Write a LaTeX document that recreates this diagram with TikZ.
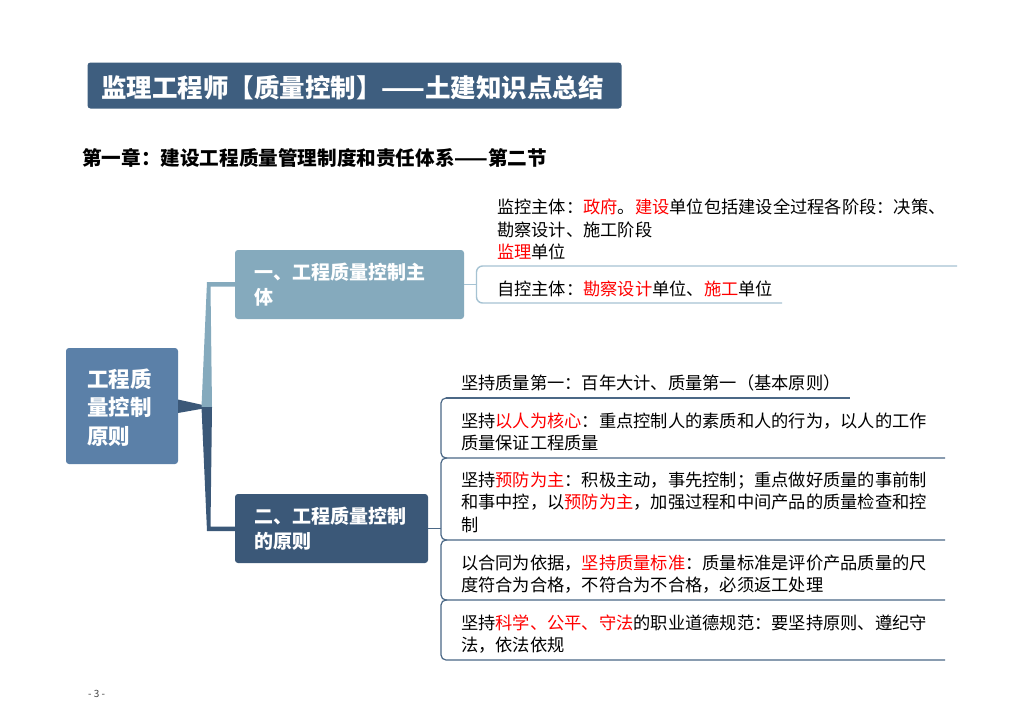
\documentclass[tikz,border=0pt]{standalone}
\usepackage{fontspec}
\setmainfont{Noto Sans CJK SC}
\definecolor{titlebg}{HTML}{3E5E7F}
\definecolor{rootbg}{HTML}{5B80A8}
\definecolor{lightbr}{HTML}{85AABD}
\definecolor{darkbr}{HTML}{3B5878}
\definecolor{lightln}{HTML}{A6C3D3}
\definecolor{darkln}{HTML}{4B6886}
\definecolor{hl}{HTML}{FF0000}
\newcommand{\hlt}[1]{\textcolor{hl}{#1}}
\tikzset{
  boxshape/.style={rectangle, rounded corners=3pt, inner sep=0pt, draw=none},
  boxtext/.style={anchor=base west, inner sep=0pt, text=white, align=left, font=\bfseries},
  itemtext/.style={anchor=base west, inner sep=0pt, text=black, align=left, font=\fontsize{17.25}{22.3}\selectfont},
  lightline/.style={draw=lightln, line width=1.4pt},
  darkline/.style={draw=darkln, line width=1.2pt},
}
\begin{document}
\begin{tikzpicture}[x=1pt,y=-1pt]
\useasboundingbox (0,0) rectangle (1024,724);
\fill[white] (0,0) rectangle (1024,724);

% title
\node[boxshape, fill=titlebg, minimum width=534pt, minimum height=46pt] (titlebox) at (354.5,85.5) {};
\node[boxtext, font=\bfseries\fontsize{25.5}{30}\selectfont] (titletext) at (101,97) {监理工程师【质量控制】——土建知识点总结};

% subtitle
\node[anchor=base west, inner sep=0pt, font=\bfseries\fontsize{19.6}{23}\selectfont] (subtitle) at (82,165.5) {第一章：建设工程质量管理制度和责任体系——第二节};

% root (base anchor = baseline of the last line)
\node[boxshape, fill=rootbg, minimum width=112pt, minimum height=116pt] (root) at (122,406) {};
\node[boxtext, font=\bfseries\fontsize{21.5}{28.5}\selectfont] (roottext) at (87,444) {工程质\\量控制\\原则};

% node 1
\node[boxshape, fill=lightbr, minimum width=229pt, minimum height=69pt] (n1) at (349.5,284.5) {};
\node[boxtext, font=\bfseries\fontsize{19}{25}\selectfont] (n1text) at (254,304) {一、工程质量控制主\\体};

% node 2
\node[boxshape, fill=darkbr, minimum width=193pt, minimum height=69pt] (n2) at (331.5,528.5) {};
\node[boxtext, font=\bfseries\fontsize{19}{25}\selectfont] (n2text) at (254,548) {二、工程质量控制\\的原则};

% tapered connectors
\fill[darkbr] (178,399.5) -- (212,407) -- (178,413) -- cycle;
\fill[lightbr] (201.5,407) -- (207,282) -- (235,282) -- (235,286.5) -- (210.5,286.5) -- (212,407) -- cycle;
\fill[darkbr] (201.5,407) -- (207,531) -- (235,531) -- (235,526.5) -- (210.5,526.5) -- (212,407) -- cycle;

% node 1 children
\coordinate (b1) at (476.5,284.5);
\draw[lightline] (n1.east) -- (b1);
\draw[lightline, rounded corners=6pt] (957,266) -- (476.5,266) -- (476.5,303) -- (782,303);
\node[itemtext] (c11) at (497,258.5) {监控主体：\hlt{政府}。\hlt{建设}单位包括建设全过程各阶段：决策、\\勘察设计、施工阶段\\\hlt{监理}单位};
\node[itemtext] (c12) at (497,295.5) {自控主体：\hlt{勘察设计}单位、\hlt{施工}单位};

% node 2 children
\coordinate (b2) at (441,528.5);
\draw[darkline] (n2.east) -- (b2);
\draw[darkline] (446,398) -- (850,398);
\draw[darkline, rounded corners=5pt] (447,398) -- (441,398) -- (441,458) -- (945,458);
\draw[darkline, rounded corners=5pt] (447,458) -- (441,458) -- (441,540) -- (945,540);
\draw[darkline, rounded corners=5pt] (447,540) -- (441,540) -- (441,600) -- (945,600);
\draw[darkline, rounded corners=5pt] (447,600) -- (441,600) -- (441,660) -- (945,660);

\node[itemtext] (d1) at (461,389.5) {坚持质量第一：百年大计、质量第一（基本原则）};
\node[itemtext] (d2) at (461,449.5) {坚持\hlt{以人为核心}：重点控制人的素质和人的行为，以人的工作\\质量保证工程质量};
\node[itemtext] (d3) at (461,531) {坚持\hlt{预防为主}：积极主动，事先控制；重点做好质量的事前制\\和事中控，以\hlt{预防为主}，加强过程和中间产品的质量检查和控\\制};
\node[itemtext] (d4) at (461,591.5) {以合同为依据，\hlt{坚持质量标准}：质量标准是评价产品质量的尺\\度符合为合格，不符合为不合格，必须返工处理};
\node[itemtext] (d5) at (461,651.5) {坚持\hlt{科学、公平、守法}的职业道德规范：要坚持原则、遵纪守\\法，依法依规};

% page number
\node[anchor=base west, inner sep=0pt, text=black!75, font=\fontsize{10}{11}\selectfont] (page) at (88,697) {- 3 -};
\end{tikzpicture}
\end{document}
